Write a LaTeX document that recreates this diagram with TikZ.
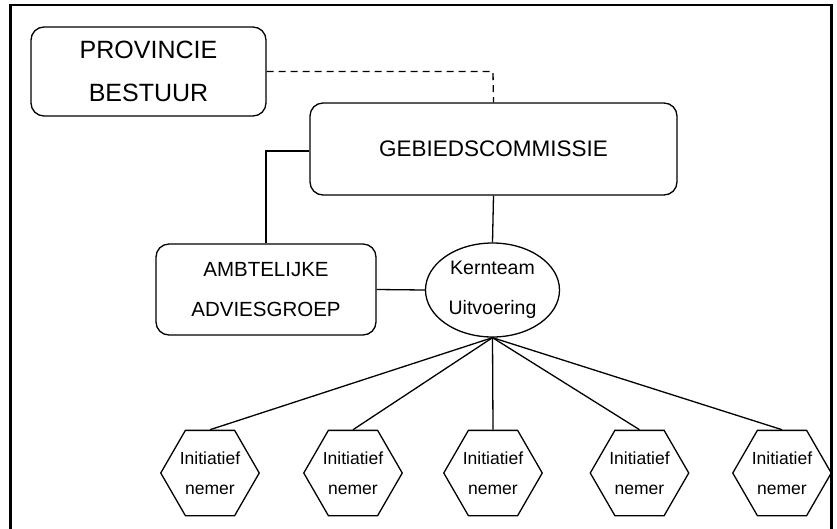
\documentclass[tikz,border=0pt]{standalone}
\usepackage{fontspec}
\setmainfont{Liberation Sans}
\usetikzlibrary{shapes.geometric}
\begin{document}
\begin{tikzpicture}[x=1pt,y=-1pt,
  conn/.style={line width=1.3pt},
  rbox/.style={draw,line width=1.3pt,rounded corners=13pt,inner sep=0pt,align=center},
  hexbox/.style={draw,line width=1.3pt,regular polygon,regular polygon sides=6,minimum size=95pt,inner sep=0pt,align=center,font=\fontsize{17.5}{30}\selectfont},
]
\useasboundingbox (0,0) rectangle (837,528);
\draw[line width=2.4pt] (10.5,5) rectangle (831.5,560);

\node[rbox,minimum width=235pt,minimum height=89pt,font=\fontsize{25}{43}\selectfont] (prov) at (148.5,71.5) {PROVINCIE\\BESTUUR};
\node[rbox,minimum width=367pt,minimum height=92pt,font=\fontsize{22.5}{27}\selectfont] (geb) at (493.5,149) {\raisebox{-5pt}{GEBIEDSCOMMISSIE}};
\node[rbox,minimum width=220pt,minimum height=91pt,font=\fontsize{20.5}{40}\selectfont] (amb) at (266,289.5) {AMBTELIJKE\\ADVIESGROEP};
\node[draw,line width=1.3pt,ellipse,minimum width=134pt,minimum height=94pt,inner sep=0pt,align=center,font=\fontsize{19.5}{40}\selectfont] (kern) at (492.5,290) {Kernteam\\Uitvoering};

\node[hexbox] (h1) at (210,473) {Initiatief\\nemer};
\node[hexbox] (h2) at (353,473) {Initiatief\\nemer};
\node[hexbox] (h3) at (493,473) {Initiatief\\nemer};
\node[hexbox] (h4) at (639.5,473) {Initiatief\\nemer};
\node[hexbox] (h5) at (782,473) {Initiatief\\nemer};

\draw[conn,dash pattern=on 7pt off 5pt] (prov.east) -- (493,71.5) -- (geb.north);
\draw[conn] (geb.west |- 0,151) -- (266,151) -- (amb.north);
\draw[conn] (geb.south) -- (kern.north);
\draw[conn] (amb.east) -- (kern.west);
\foreach \h in {h1,h2,h3,h4,h5}
  \draw[conn] (kern.south) -- (\h.north);
\end{tikzpicture}
\end{document}
